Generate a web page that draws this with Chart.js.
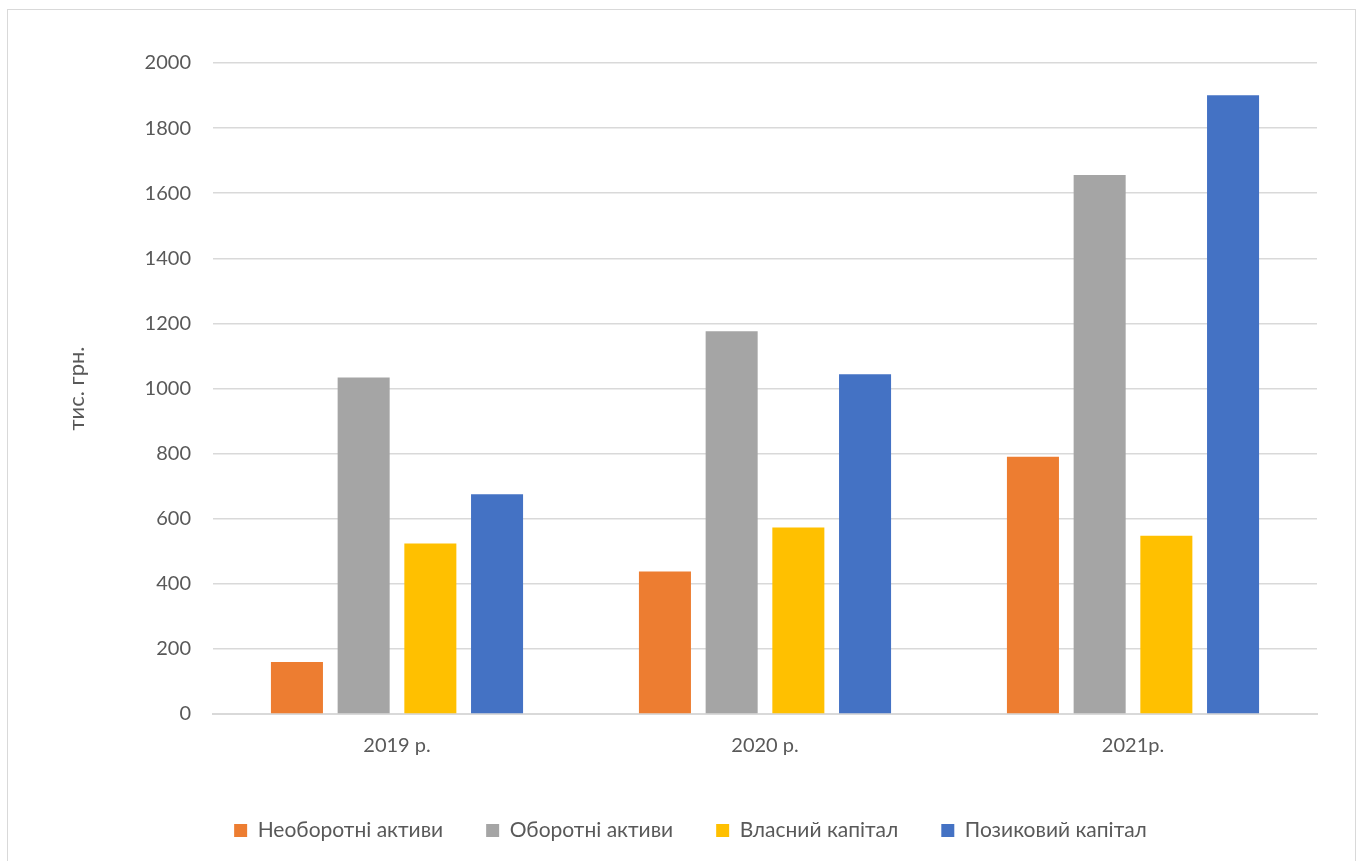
<!DOCTYPE html>
<html lang="uk">
<head>
<meta charset="UTF-8">
<title>Chart</title>
<script src="https://cdn.jsdelivr.net/npm/chart.js"></script>
<style>
  html, body { margin: 0; padding: 0; background: #fff; }
  #wrap { position: relative; width: 1360px; height: 861px; overflow: hidden; }
  #frame { position: absolute; left: 7px; top: 9px; width: 1347px; height: 900px; border: 1px solid #d9d9d9; }
  #myChart { position: absolute; left: 0; top: 0; }
</style>
</head>
<body>
<div id="wrap">
  <div id="frame"></div>
  <canvas id="myChart" width="1360" height="861"></canvas>
</div>
<script>
  const years = ["2019 р.", "2020 р.", "2021р."];
  const nonCurrent = [160, 438, 790];     // Необоротні активи
  const current = [1034, 1176, 1656];     // Оборотні активи
  const equity = [524, 573, 548];         // Власний капітал
  const borrowed = [675, 1044, 1901];     // Позиковий капітал

  const textColor = "#595959";
  const gridColor = "#d9d9d9";
  const font = "Lato, 'Noto Sans', sans-serif";

  function bar(label, data, color) {
    return {
      label: label,
      data: data,
      backgroundColor: color,
      borderWidth: 0,
      categoryPercentage: 0.725,
      barPercentage: 0.78
    };
  }

  new Chart(document.getElementById("myChart"), {
    type: "bar",
    data: {
      labels: years,
      datasets: [
        bar("Необоротні активи", nonCurrent, "#ED7D31"),
        bar("Оборотні активи", current, "#A5A5A5"),
        bar("Власний капітал", equity, "#FFC000"),
        bar("Позиковий капітал", borrowed, "#4472C4")
      ]
    },
    options: {
      responsive: false,
      animation: false,
      layout: { padding: { left: 64, top: 63, right: 43, bottom: 10 } },
      plugins: {
        tooltip: { enabled: false },
        legend: {
          position: "bottom",
          labels: {
            boxWidth: 13,
            boxHeight: 13,
            padding: 43,
            color: textColor,
            font: { family: font, size: 21 }
          }
        }
      },
      scales: {
        x: {
          grid: { display: false },
          border: { color: gridColor, width: 2 },
          ticks: { color: textColor, font: { family: font, size: 20 }, padding: 12 },
          afterFit: (s) => { s.height = 63; }
        },
        y: {
          min: 0,
          max: 2000,
          ticks: {
            stepSize: 200,
            color: textColor,
            font: { family: font, size: 20 },
            padding: 22,
            callback: (v) => String(v)
          },
          grid: { color: gridColor, lineWidth: 1.5, drawTicks: false },
          border: { display: false },
          title: {
            display: true,
            text: "тис. грн.",
            color: textColor,
            font: { family: font, size: 22 },
            padding: 0
          },
          afterFit: (s) => { s.width = 149; }
        }
      }
    }
  });
</script>
</body>
</html>
